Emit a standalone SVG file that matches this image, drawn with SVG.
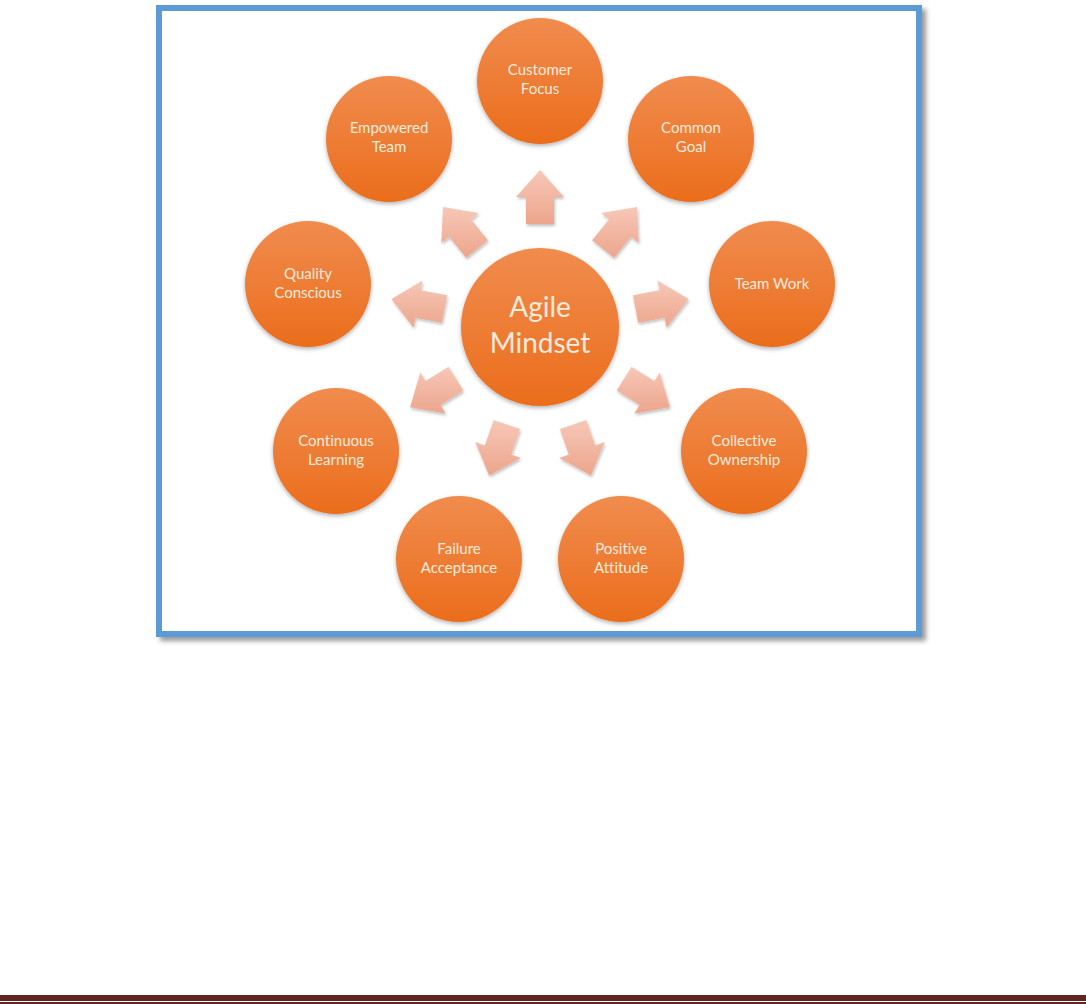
<svg xmlns="http://www.w3.org/2000/svg" width="1086" height="1004" viewBox="0 0 1086 1004">
<style>
.node circle{fill:url(#orange);filter:url(#csh)}
.lbl{font-family:Lato,"Open Sans","Liberation Sans",sans-serif;font-size:15px;fill:#FDEBDC;text-anchor:middle;font-variant-ligatures:none}
.big{font-family:Lato,"Open Sans","Liberation Sans",sans-serif;font-size:28px;fill:#FDEBDC;text-anchor:middle;font-variant-ligatures:none}
.arr{fill:url(#pink);filter:url(#ash)}
</style>
<defs>
<linearGradient id="orange" x1="0" y1="0" x2="0" y2="1">
<stop offset="0" stop-color="#F08C4E"/>
<stop offset="1" stop-color="#EB6D1C"/>
</linearGradient>
<linearGradient id="pink" x1="0" y1="0" x2="0" y2="1">
<stop offset="0" stop-color="#F6C8B7"/>
<stop offset="1" stop-color="#EDA58C"/>
</linearGradient>
<filter id="csh" x="-20%" y="-20%" width="140%" height="150%">
<feDropShadow dx="0" dy="2" stdDeviation="2" flood-color="#000" flood-opacity="0.3"/>
</filter>
<filter id="ash" x="-30%" y="-30%" width="160%" height="160%">
<feDropShadow dx="1" dy="2" stdDeviation="1.5" flood-color="#000" flood-opacity="0.25"/>
</filter>
<filter id="bsh" x="-5%" y="-5%" width="110%" height="110%">
<feDropShadow dx="4" dy="4" stdDeviation="2.5" flood-color="#000" flood-opacity="0.4"/>
</filter>
</defs>
<rect x="0" y="0" width="1086" height="1004" fill="#FFFFFF"/>
<rect id="frame" x="159" y="8" width="760" height="626" fill="#FFFFFF" stroke="#5B9BD5" stroke-width="6" filter="url(#bsh)"/>

<g id="connectors">
<polygon class="arr" transform="translate(540,197)" points="-14,27 -14,0 -24,0 0,-27 24,0 14,0 14,27"/>
<polygon class="arr" transform="translate(620,228)" points="-27.9,12.2 -10.9,-8.8 -18.7,-15.1 17,-21 18.7,15.1 10.9,8.8 -6.1,29.8"/>
<polygon class="arr" transform="translate(662,304)" points="-29.1,-8.7 -2.6,-13.8 -4.5,-23.6 26.5,-5.1 4.5,23.6 2.6,13.8 -23.9,18.8"/>
<polygon class="arr" transform="translate(647,393)" points="-15.5,-26.2 7.4,-11.9 12.7,-20.4 22.9,14.3 -12.7,20.4 -7.4,11.9 -30.3,-2.4"/>
<polygon class="arr" transform="translate(582,450)" points="4.3,-30.1 13.2,-4.6 22.7,-7.9 8.9,25.5 -22.7,7.9 -13.2,4.6 -22.1,-20.9"/>
<polygon class="arr" transform="translate(498,450)" points="-4.3,-30.1 -13.2,-4.6 -22.7,-7.9 -8.9,25.5 22.7,7.9 13.2,4.6 22.1,-20.9"/>
<polygon class="arr" transform="translate(433,393)" points="15.5,-26.2 -7.4,-11.9 -12.7,-20.4 -22.9,14.3 12.7,20.4 7.4,11.9 30.3,-2.4"/>
<polygon class="arr" transform="translate(418,304)" points="29.1,-8.7 2.6,-13.8 4.5,-23.6 -26.5,-5.1 -4.5,23.6 -2.6,13.8 23.9,18.8"/>
<polygon class="arr" transform="translate(460,228)" points="27.9,12.2 10.9,-8.8 18.7,-15.1 -17,-21 -18.7,15.1 -10.9,8.8 6.1,29.8"/>
</g>

<g id="agile-mindset" class="node">
<circle cx="540" cy="327" r="79"/>
<text class="big" x="540" y="317">Agile</text>
<text class="big" x="540" y="353">Mindset</text>
</g>
<g id="customer-focus" class="node">
<circle cx="540" cy="81" r="63"/>
<text class="lbl" x="540" y="75">Customer</text>
<text class="lbl" x="540" y="94">Focus</text>
</g>
<g id="common-goal" class="node">
<circle cx="691" cy="139" r="63"/>
<text class="lbl" x="691" y="133">Common</text>
<text class="lbl" x="691" y="152">Goal</text>
</g>
<g id="team-work" class="node">
<circle cx="772" cy="284" r="63"/>
<text class="lbl" x="772" y="289">Team Work</text>
</g>
<g id="collective-ownership" class="node">
<circle cx="744" cy="451" r="63"/>
<text class="lbl" x="744" y="446">Collective</text>
<text class="lbl" x="744" y="465">Ownership</text>
</g>
<g id="positive-attitude" class="node">
<circle cx="621" cy="559" r="63"/>
<text class="lbl" x="621" y="554">Positive</text>
<text class="lbl" x="621" y="573">Attitude</text>
</g>
<g id="failure-acceptance" class="node">
<circle cx="459" cy="559" r="63"/>
<text class="lbl" x="459" y="554">Failure</text>
<text class="lbl" x="459" y="573">Acceptance</text>
</g>
<g id="continuous-learning" class="node">
<circle cx="336" cy="451" r="63"/>
<text class="lbl" x="336" y="446">Continuous</text>
<text class="lbl" x="336" y="465">Learning</text>
</g>
<g id="quality-conscious" class="node">
<circle cx="308" cy="284" r="63"/>
<text class="lbl" x="308" y="279">Quality</text>
<text class="lbl" x="308" y="298">Conscious</text>
</g>
<g id="empowered-team" class="node">
<circle cx="389" cy="139" r="63"/>
<text class="lbl" x="389" y="133">Empowered</text>
<text class="lbl" x="389" y="152">Team</text>
</g>

<rect x="0" y="995" width="1086" height="6" fill="#622423"/>
<rect x="0" y="1002" width="1086" height="2" fill="#622423"/>
</svg>
